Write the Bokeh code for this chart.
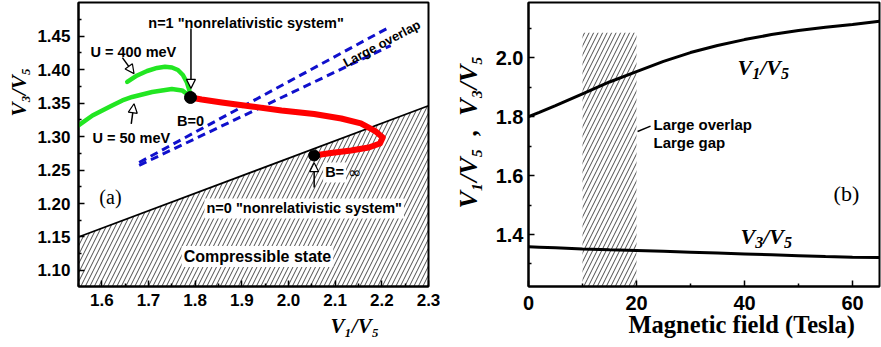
import math
from bokeh.plotting import figure
from bokeh.layouts import row
from bokeh.models import Label, Arrow, NormalHead, FixedTicker, PrintfTickFormatter, Range1d, Title
from bokeh.embed import file_html
from bokeh.resources import INLINE

# ---------------- data: panel (a) ----------------
u400_x = [1.6544, 1.6757, 1.6970, 1.7183, 1.7354, 1.7503, 1.7631, 1.7737, 1.7823, 1.7876, 1.7897]
u400_y = [1.3816, 1.3913, 1.3980, 1.4025, 1.4043, 1.4032, 1.3995, 1.3920, 1.3808, 1.3689, 1.3584]

u50_x = [1.550, 1.580, 1.622, 1.644, 1.665, 1.708, 1.750, 1.772, 1.784, 1.790]
u50_y = [1.3166, 1.3315, 1.3465, 1.3540, 1.3592, 1.3666, 1.3711, 1.3689, 1.3629, 1.3584]

red_x = [1.790, 1.814, 1.857, 1.921, 1.985, 2.055, 2.113, 2.155, 2.187, 2.202, 2.196, 2.172, 2.134, 2.091, 2.055]
red_y = [1.3584, 1.3554, 1.3509, 1.3450, 1.3390, 1.3338, 1.3270, 1.3196, 1.3076, 1.2987, 1.2897, 1.2837, 1.2792, 1.2755, 1.2718]

overlap_upper_x = [1.680, 2.215]
overlap_upper_y = [1.2613, 1.463]
overlap_lower_x = [1.680, 2.219]
overlap_lower_y = [1.257, 1.436]

boundary_x = [1.55, 2.30]
boundary_y = [1.150, 1.346]

b0_x, b0_y = [1.790], [1.3584]
binf_x, binf_y = [2.055], [1.2718]

a_xticks = [1.6, 1.7, 1.8, 1.9, 2.0, 2.1, 2.2, 2.3]
a_xminor = [1.55, 1.65, 1.75, 1.85, 1.95, 2.05, 2.15, 2.25]
a_yticks = [1.10, 1.15, 1.20, 1.25, 1.30, 1.35, 1.40, 1.45]
a_yminor = [1.075, 1.125, 1.175, 1.225, 1.275, 1.325, 1.375, 1.425, 1.475]

# ---------------- data: panel (b) ----------------
b_field = [0, 2, 5, 10, 15, 20, 25, 30, 35, 40, 45, 50, 55, 60, 65]
v1_ratio = [1.800, 1.815, 1.838, 1.878, 1.918, 1.953, 1.988, 2.018, 2.042, 2.062, 2.079, 2.093, 2.104, 2.113, 2.124]
v3_ratio = [1.358, 1.357, 1.355, 1.351, 1.348, 1.346, 1.343, 1.340, 1.337, 1.334, 1.331, 1.328, 1.325, 1.323, 1.322]

band_left, band_right, band_top = [10], [20], [2.085]

b_xticks = [0, 20, 40, 60]
b_xminor = [10, 30, 50]
b_yticks = [1.4, 1.6, 1.8, 2.0]
b_yminor = [1.3, 1.5, 1.7, 1.9, 2.1]

SANS = "Liberation Sans"
SERIF = "Liberation Serif"

W = {'V': .667, '/': .278, ',': .25, ' ': .25}


def wid(s, size):
    return sum(W.get(c, .5) for c in s) * size


def rich(p, x, y, parts, angle=0.0):
    ca, sa = math.cos(angle), math.sin(angle)
    adv = 0.0
    for text, size, drop in parts:
        ox = adv * ca + drop * sa
        oy = adv * sa - drop * ca
        p.add_layout(Label(x=x, y=y, x_offset=ox, y_offset=oy, text=text, angle=angle,
                           text_font=SERIF, text_font_style="bold italic",
                           text_font_size=f"{size}px", text_baseline="alphabetic",
                           text_align="left", text_color="black"))
        adv += wid(text, size)


def ratio_parts(a, b, big, small):
    d = big * 0.25
    return [("V", big, 0), (a, small, d), ("/", big, 0), ("V", big, 0), (b, small, d)]


def label(p, x, y, text, size, align="left", font=SANS, style="bold", bg=None, angle=0.0):
    kw = {}
    if bg:
        kw = dict(background_fill_color=bg, background_fill_alpha=1.0, padding=2)
    p.add_layout(Label(x=x, y=y, text=text, text_font=font, text_font_style=style,
                       text_font_size=f"{size}px", text_align=align, text_baseline="alphabetic",
                       text_color="black", angle=angle, **kw))


def axis_title(p, side, text, size, offset, standoff, style="bold italic"):
    p.add_layout(Title(text=text, align="left", offset=offset, standoff=standoff,
                       text_font=SERIF, text_font_style=style, text_font_size=f"{size}px",
                       text_color="black"), side)


def style_axes(p, xt, xm, yt, ym, xfmt, yfmt, fsize, xstand, ystand):
    p.xaxis.ticker = FixedTicker(ticks=xt, minor_ticks=xm)
    p.yaxis.ticker = FixedTicker(ticks=yt, minor_ticks=ym)
    p.xaxis.formatter = PrintfTickFormatter(format=xfmt)
    p.yaxis.formatter = PrintfTickFormatter(format=yfmt)
    for ax in (p.xaxis[0], p.yaxis[0]):
        ax.major_tick_in = 6
        ax.major_tick_out = 0
        ax.minor_tick_in = 3
        ax.minor_tick_out = 0
        ax.major_tick_line_width = 1.5
        ax.minor_tick_line_width = 1.5
        ax.axis_line_width = 2
        ax.major_label_text_font = SANS
        ax.major_label_text_font_style = "bold"
        ax.major_label_text_font_size = f"{fsize}px"
        ax.major_label_text_color = "black"
    p.xaxis.major_label_standoff = xstand
    p.yaxis.major_label_standoff = ystand
    p.xgrid.visible = False
    p.ygrid.visible = False
    p.outline_line_color = "black"
    p.outline_line_width = 2
    p.background_fill_color = "white"
    p.border_fill_color = "white"


# ---------------- panel (a) ----------------
ya0, ya1 = 1.076, 1.5003
p1 = figure(width=440, height=347, x_range=Range1d(1.55, 2.3), y_range=Range1d(ya0, ya1),
            output_backend="svg", toolbar_location=None,
            min_border_left=76, min_border_right=12, min_border_top=2, min_border_bottom=61)
style_axes(p1, a_xticks, a_xminor, a_yticks, a_yminor, "%.1f", "%.2f", 17, 7, 8)

p1.patch(x=boundary_x + boundary_x[::-1], y=boundary_y + [ya0, ya0],
         fill_color=None, line_color=None, hatch_pattern="/", hatch_color="black",
         hatch_weight=0.7, hatch_scale=9)
p1.line(boundary_x, boundary_y, line_color="black", line_width=1.8)

p1.line(overlap_upper_x, overlap_upper_y, line_color="#1010cc", line_width=3, line_dash="8 5")
p1.line(overlap_lower_x, overlap_lower_y, line_color="#1010cc", line_width=3, line_dash="8 5")

p1.line(u400_x, u400_y, line_color="#22e622", line_width=4.5, line_join="round", line_cap="round")
p1.line(u50_x, u50_y, line_color="#22e622", line_width=4.5, line_join="round", line_cap="round")
p1.line(red_x, red_y, line_color="#ff0000", line_width=6, line_join="round", line_cap="round")

p1.scatter(b0_x, b0_y, size=12, color="black")
p1.scatter(binf_x, binf_y, size=11, color="black")


def arrow(p, x0, y0, x1, y1):
    p.add_layout(Arrow(x_start=x0, y_start=y0, x_end=x1, y_end=y1, line_width=1.5,
                       line_color="black",
                       end=NormalHead(size=9, fill_color="white", line_color="black", line_width=1.2)))


arrow(p1, 1.644, 1.418, 1.669, 1.394)
arrow(p1, 1.663, 1.319, 1.669, 1.349)
arrow(p1, 1.791, 1.4615, 1.791, 1.372)
arrow(p1, 2.055, 1.224, 2.055, 1.261)

label(p1, 1.909, 1.469, 'n=1 "nonrelativistic system"', 14.5, align="center")
label(p1, 1.5756, 1.4256, "U = 400 meV", 14.5)
label(p1, 1.5798, 1.2972, "U = 50 meV", 14.5)
label(p1, 1.761, 1.3226, "B=0", 14.5)
label(p1, 2.0742, 1.2464, "B=", 14.5, bg="white")
label(p1, 2.1274, 1.2464, "\u221e", 16, font="DejaVu Sans", style="normal")
label(p1, 2.0337, 1.1926, 'n=0 "nonrelativistic system"', 14.5, align="center", bg="white")
label(p1, 1.9335, 1.121, "Compressible state", 16, align="center", bg="white")
label(p1, 2.20, 1.439, "Large overlap", 13, align="center", angle=0.49)
label(p1, 1.5947, 1.2099, "(a)", 20, font=SERIF, style="normal")

axis_title(p1, "below", "V\u2081/V\u2085", 21, 252, 7)
axis_title(p1, "left", "V\u2083/V\u2085", 21, 170, 8)

# ---------------- panel (b) ----------------
yb0, yb1 = 1.2234, 2.188
p2 = figure(width=441, height=347, x_range=Range1d(0, 65), y_range=Range1d(yb0, yb1),
            output_backend="svg", toolbar_location=None,
            min_border_left=88, min_border_right=2, min_border_top=2, min_border_bottom=61)
style_axes(p2, b_xticks, b_xminor, b_yticks, b_yminor, "%d", "%.1f", 20, 9, 5)

p2.quad(left=band_left, right=band_right, bottom=[yb0], top=band_top,
        fill_color=None, line_color=None, hatch_pattern="/", hatch_color="black",
        hatch_weight=0.7, hatch_scale=9)
p2.line(b_field, v1_ratio, line_color="black", line_width=3)
p2.line(b_field, v3_ratio, line_color="black", line_width=3)

p2.line([20.2, 22.6], [1.750, 1.768], line_color="black", line_width=1.5)
label(p2, 23.15, 1.7735, "Large overlap", 15)
label(p2, 23.15, 1.712, "Large gap", 15)
label(p2, 56.5, 1.539, "(b)", 22, font=SERIF, style="normal")

rich(p2, 38.7, 1.967, ratio_parts("1", "5", 22, 16))
rich(p2, 39.26, 1.3931, ratio_parts("3", "5", 22, 16))

axis_title(p2, "below", "Magnetic field (Tesla)", 24.5, 100, -51, style="bold")
axis_title(p2, "left", "V\u2081/V\u2085\u00a0\u00a0,\u00a0\u00a0V\u2083/V\u2085", 26, 78, 20)

layout = row(p1, p2)
open("out.html", "w").write(file_html(layout, INLINE))
